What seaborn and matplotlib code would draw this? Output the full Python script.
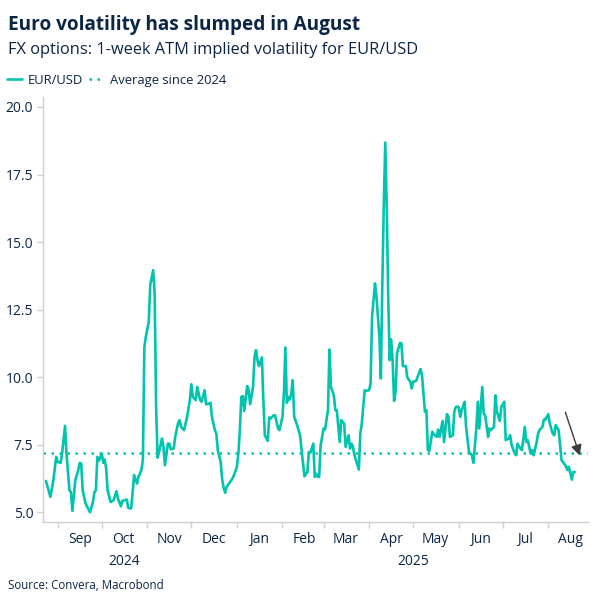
import numpy as np
import pandas as pd
import matplotlib
matplotlib.use("Agg")
import matplotlib.pyplot as plt
import matplotlib.dates as mdates
from matplotlib.lines import Line2D
import seaborn as sns

# ---------------- data ----------------
dates = [
    "2024-08-24", "2024-08-27", "2024-08-29", "2024-08-31", "2024-09-01", "2024-09-03", "2024-09-04",
    "2024-09-06", "2024-09-07", "2024-09-09", "2024-09-10", "2024-09-11", "2024-09-13", "2024-09-15",
    "2024-09-16", "2024-09-17", "2024-09-18", "2024-09-20", "2024-09-23", "2024-09-25", "2024-09-26",
    "2024-09-27", "2024-09-28", "2024-09-29", "2024-10-01", "2024-10-02", "2024-10-03", "2024-10-04",
    "2024-10-05", "2024-10-07", "2024-10-09", "2024-10-11", "2024-10-12", "2024-10-14", "2024-10-15",
    "2024-10-18", "2024-10-19", "2024-10-21", "2024-10-22", "2024-10-23", "2024-10-25", "2024-10-26",
    "2024-10-28", "2024-10-29", "2024-10-30", "2024-10-31", "2024-11-02", "2024-11-03", "2024-11-05",
    "2024-11-06", "2024-11-07", "2024-11-08", "2024-11-09", "2024-11-11", "2024-11-12", "2024-11-13",
    "2024-11-15", "2024-11-16", "2024-11-17", "2024-11-19", "2024-11-20", "2024-11-22", "2024-11-23",
    "2024-11-24", "2024-11-26", "2024-11-27", "2024-11-28", "2024-11-30", "2024-12-01", "2024-12-02",
    "2024-12-04", "2024-12-05", "2024-12-07", "2024-12-08", "2024-12-10", "2024-12-11", "2024-12-12",
    "2024-12-14", "2024-12-15", "2024-12-17", "2024-12-18", "2024-12-19", "2024-12-21", "2024-12-22",
    "2024-12-23", "2024-12-24", "2024-12-25", "2024-12-27", "2024-12-29", "2024-12-30", "2025-01-01",
    "2025-01-02", "2025-01-03", "2025-01-04", "2025-01-05", "2025-01-06", "2025-01-08", "2025-01-09",
    "2025-01-10", "2025-01-12", "2025-01-13", "2025-01-14", "2025-01-15", "2025-01-16", "2025-01-18",
    "2025-01-19", "2025-01-20", "2025-01-22", "2025-01-23", "2025-01-24", "2025-01-26", "2025-01-27",
    "2025-01-29", "2025-01-30", "2025-02-01", "2025-02-02", "2025-02-03", "2025-02-04", "2025-02-05",
    "2025-02-06", "2025-02-07", "2025-02-08", "2025-02-09", "2025-02-11", "2025-02-12", "2025-02-13",
    "2025-02-15", "2025-02-16", "2025-02-18", "2025-02-19", "2025-02-20", "2025-02-22", "2025-02-23",
    "2025-02-24", "2025-02-25", "2025-02-26", "2025-02-27", "2025-03-01", "2025-03-02", "2025-03-04",
    "2025-03-05", "2025-03-06", "2025-03-08", "2025-03-09", "2025-03-10", "2025-03-12", "2025-03-13",
    "2025-03-15", "2025-03-16", "2025-03-18", "2025-03-19", "2025-03-20", "2025-03-21", "2025-03-22",
    "2025-03-25", "2025-03-26", "2025-03-27", "2025-03-29", "2025-03-30", "2025-04-01", "2025-04-02",
    "2025-04-03", "2025-04-05", "2025-04-06", "2025-04-08", "2025-04-09", "2025-04-10", "2025-04-11",
    "2025-04-12", "2025-04-13", "2025-04-14", "2025-04-15", "2025-04-16", "2025-04-17", "2025-04-18",
    "2025-04-19", "2025-04-20", "2025-04-22", "2025-04-23", "2025-04-24", "2025-04-26", "2025-04-27",
    "2025-04-29", "2025-04-30", "2025-05-01", "2025-05-03", "2025-05-04", "2025-05-06", "2025-05-07",
    "2025-05-08", "2025-05-09", "2025-05-10", "2025-05-11", "2025-05-12", "2025-05-14", "2025-05-15",
    "2025-05-17", "2025-05-18", "2025-05-19", "2025-05-21", "2025-05-22", "2025-05-24", "2025-05-25",
    "2025-05-26", "2025-05-28", "2025-05-29", "2025-05-30", "2025-06-01", "2025-06-02", "2025-06-03",
    "2025-06-05", "2025-06-06", "2025-06-08", "2025-06-09", "2025-06-10", "2025-06-11", "2025-06-13",
    "2025-06-14", "2025-06-15", "2025-06-17", "2025-06-18", "2025-06-19", "2025-06-21", "2025-06-22",
    "2025-06-23", "2025-06-25", "2025-06-26", "2025-06-27", "2025-06-29", "2025-06-30", "2025-07-02",
    "2025-07-03", "2025-07-05", "2025-07-06", "2025-07-07", "2025-07-09", "2025-07-10", "2025-07-11",
    "2025-07-13", "2025-07-14", "2025-07-16", "2025-07-17", "2025-07-18", "2025-07-20", "2025-07-21",
    "2025-07-22", "2025-07-24", "2025-07-25", "2025-07-26", "2025-07-28", "2025-07-29", "2025-07-30",
    "2025-08-01", "2025-08-02", "2025-08-04", "2025-08-05", "2025-08-06", "2025-08-08", "2025-08-09",
    "2025-08-10", "2025-08-12", "2025-08-13", "2025-08-14", "2025-08-15", "2025-08-17", "2025-08-18",
    "2025-08-19",
]

eurusd_vol = [
    6.16, 5.57, 6.16, 7.05, 6.86, 6.83, 7.17,
    8.20, 7.17, 5.81, 5.75, 5.05, 6.19, 6.56,
    6.83, 6.80, 5.81, 5.32, 5.00, 5.38, 5.75,
    5.81, 7.05, 6.90, 7.17, 6.83, 6.95, 6.62,
    5.81, 5.38, 5.44, 5.78, 5.51, 5.22, 5.42,
    5.47, 5.16, 5.14, 5.72, 6.38, 6.06, 6.31,
    6.56, 6.95, 11.12, 11.49, 12.05, 13.41, 13.96,
    13.10, 8.90, 7.02, 7.23, 7.73, 7.42, 6.74,
    7.54, 7.54, 7.33, 7.36, 7.79, 8.31, 8.41,
    8.16, 8.04, 8.28, 8.51, 9.15, 9.74, 9.27,
    9.15, 9.64, 9.15, 9.09, 9.52, 9.00, 9.00,
    9.05, 8.53, 8.04, 7.91, 7.30, 6.85, 6.20,
    5.90, 5.72, 5.94, 6.09, 6.25, 6.37, 6.68,
    7.17, 8.04, 9.27, 9.30, 8.75, 9.67, 9.52,
    9.00, 9.64, 10.75, 11.00, 10.63, 10.41, 10.73,
    9.15, 7.85, 7.64, 8.51, 8.47, 8.59, 8.59,
    8.10, 8.04, 8.53, 9.40, 11.10, 9.05, 9.27,
    9.17, 9.40, 9.89, 8.53, 8.22, 8.04, 7.85,
    6.80, 6.33, 6.49, 7.23, 7.20, 7.54, 6.31,
    6.43, 6.31, 6.31, 7.48, 8.10, 8.07, 8.78,
    11.02, 9.64, 9.33, 8.78, 8.78, 7.60, 8.41,
    8.28, 7.42, 7.85, 7.36, 7.54, 7.42, 7.11,
    6.58, 7.91, 8.28, 9.52, 9.49, 9.52, 9.77,
    12.23, 13.47, 12.98, 11.49, 9.95, 13.47, 16.43,
    18.68, 16.31, 12.98, 10.63, 11.40, 10.60, 9.12,
    9.46, 10.88, 11.27, 11.25, 10.41, 10.41, 9.99,
    9.83, 9.58, 9.83, 9.86, 10.01, 10.30, 10.07,
    9.40, 8.72, 8.78, 7.30, 7.27, 7.98, 7.89,
    7.79, 8.06, 7.79, 8.38, 7.60, 8.63, 8.53,
    7.79, 7.85, 8.72, 8.90, 8.90, 8.53, 8.78,
    9.09, 8.16, 7.23, 7.17, 7.11, 6.83, 8.10,
    9.09, 8.10, 9.64, 8.65, 8.59, 7.79, 8.10,
    8.04, 8.16, 9.33, 8.72, 8.38, 8.90, 9.09,
    7.67, 7.73, 7.85, 7.48, 7.20, 7.11, 7.54,
    7.36, 7.30, 8.16, 7.60, 7.67, 7.17, 7.30,
    7.11, 7.57, 7.91, 8.04, 8.16, 8.43, 8.43,
    8.63, 8.28, 7.91, 7.85, 8.22, 8.04, 7.48,
    6.93, 6.78, 6.70, 6.56, 6.68, 6.21, 6.49,
    6.49,
]

average_since_2024 = 7.2

series_label = "EUR/USD"
average_label = "Average since 2024"
title = "Euro volatility has slumped in August"
subtitle = "FX options: 1-week ATM implied volatility for EUR/USD"
source = "Source: Convera, Macrobond"
y_ticks = [5.0, 7.5, 10.0, 12.5, 15.0, 17.5, 20.0]
year_labels = ["2024", "2025"]
year_label_dates = ["2024-10-16", "2025-05-01"]
arrow_start = ("2025-08-12", 8.8)
arrow_end = ("2025-08-23", 7.0)

# ---------------- style ----------------
sns.set_theme(style="white")
plt.rcParams["font.family"] = ["Open Sans", "DejaVu Sans"]

TEAL = "#00c4ae"
NAVY = "#0b2545"
AXIS = "#cfcfcf"

df = pd.DataFrame({"date": pd.to_datetime(dates), "vol": eurusd_vol})

fig = plt.figure(figsize=(6.04, 6.04), dpi=100)
ax = fig.add_axes([0.0712, 0.1358, 0.9023, 0.7036])

sns.lineplot(data=df, x="date", y="vol", ax=ax, color=TEAL, linewidth=1.9,
             legend=False)
ax.axhline(average_since_2024, color=TEAL, linewidth=1.8,
           linestyle=(0, (1, 2.2)))

ax.set_xlim(pd.Timestamp("2024-08-22"), pd.Timestamp("2025-08-28"))
ax.set_ylim(4.64, 20.37)
ax.set_xlabel("")
ax.set_ylabel("")

ax.set_yticks(y_ticks)
ax.set_yticklabels([f"{v:.1f}" for v in y_ticks])

ax.xaxis.set_major_locator(mdates.MonthLocator())
ax.xaxis.set_major_formatter(plt.NullFormatter())
ax.xaxis.set_minor_locator(mdates.MonthLocator(bymonthday=16))
ax.xaxis.set_minor_formatter(mdates.DateFormatter("%b"))

ax.tick_params(axis="x", which="major", length=4, width=1, color=AXIS, direction="out")
ax.tick_params(axis="x", which="minor", length=0, pad=7, labelsize=10, labelcolor=NAVY)
ax.tick_params(axis="y", which="major", length=4, width=1, color=AXIS, direction="out",
               pad=3, labelsize=10, labelcolor=NAVY)
ax.tick_params(bottom=True, left=True)

for s in ["top", "right"]:
    ax.spines[s].set_visible(False)
for s in ["left", "bottom"]:
    ax.spines[s].set_color(AXIS)
    ax.spines[s].set_linewidth(1)

for lbl, d in zip(year_labels, year_label_dates):
    ax.text(pd.Timestamp(d), -0.094, lbl, transform=ax.get_xaxis_transform(),
            ha="center", va="center", fontsize=10, color=NAVY)

ax.annotate("", xy=(mdates.date2num(pd.Timestamp(arrow_end[0])), arrow_end[1]),
            xytext=(mdates.date2num(pd.Timestamp(arrow_start[0])), arrow_start[1]),
            arrowprops=dict(arrowstyle="-|>", color="#3c3c3c", lw=1.0, mutation_scale=16))

handles = [Line2D([0], [0], color=TEAL, lw=1.9),
           Line2D([0], [0], color=TEAL, lw=1.8, linestyle=(0, (1, 2.2)))]
fig.legend(handles, [series_label, average_label], loc="center left",
           bbox_to_anchor=(0.008, 0.867), frameon=False, ncol=2, handlelength=1.1,
           handletextpad=0.45, columnspacing=0.5, fontsize=9.4, labelcolor=NAVY,
           borderaxespad=0, borderpad=0.2)

fig.text(0.013, 0.9503, title, fontsize=13.7, fontweight="bold", color=NAVY, va="baseline")
fig.text(0.013, 0.910, subtitle, fontsize=11.8, color=NAVY, va="baseline")
fig.text(0.013, 0.0248, source, fontsize=8.3, color=NAVY, va="baseline")

fig.savefig("out.png", dpi=100)
